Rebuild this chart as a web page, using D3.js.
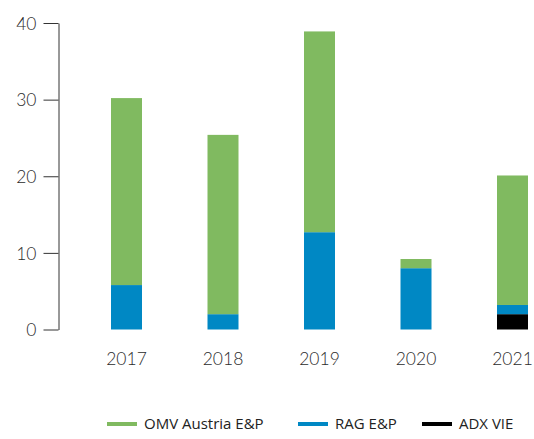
<!DOCTYPE html>
<html lang="en">
<head>
    <meta charset="UTF-8">
    <title>Stacked bars</title>
    <style>
        html, body {
            margin: 0;
            padding: 0;
            background-color: #fff;
        }
        .axis text, .year {
            font-family: 'Lato', sans-serif;
            font-weight: 300;
            font-size: 17.5px;
            fill: #2b2b2b;
        }
        .legend text {
            font-family: 'Open Sans', sans-serif;
            font-size: 15px;
            fill: #222;
        }
    </style>
</head>
<body>
    <div id="chart"></div>
    <script src="https://d3js.org/d3.v7.min.js"></script>
    <script>
        const width = 534, height = 439;

        const years = ["2017", "2018", "2019", "2020", "2021"];
        const adxVie = [0, 0, 0, 0, 2.0];
        const ragEP = [5.8, 2.0, 12.7, 8.0, 1.2];
        const omvAustria = [24.4, 23.4, 26.2, 1.2, 16.9];
        const seriesNames = ["ADX VIE", "RAG E&P", "OMV Austria E&P"];
        const colours = ["#000000", "#0088c4", "#80ba60"];
        const yTicks = [0, 10, 20, 30, 40];

        const rows = years.map((y, i) => ({
            year: y,
            "ADX VIE": adxVie[i],
            "RAG E&P": ragEP[i],
            "OMV Austria E&P": omvAustria[i]
        }));

        const stack = d3.stack().keys(seriesNames)(rows);

        const svg = d3.select("#chart")
            .append("svg")
            .attr("width", width)
            .attr("height", height);

        const x = d3.scalePoint()
            .domain(years)
            .range([126.5, 512.5]);
        const barW = 31;

        const y = d3.scaleLinear()
            .domain([0, 40])
            .range([329.5, 23]);

        const colour = d3.scaleOrdinal().domain(seriesNames).range(colours);

        // bars
        svg.append("g")
            .selectAll("g")
            .data(stack).enter()
            .append("g")
            .attr("fill", d => colour(d.key))
            .selectAll("rect")
            .data(d => d).enter()
            .append("rect")
            .attr("x", d => x(d.data.year) - barW / 2)
            .attr("y", d => y(d[1]))
            .attr("width", barW)
            .attr("height", d => y(d[0]) - y(d[1]));

        // y axis
        const yAxis = d3.axisLeft(y)
            .tickValues(yTicks)
            .tickSize(15)
            .tickSizeOuter(0)
            .tickPadding(7);

        const gy = svg.append("g")
            .attr("class", "axis")
            .attr("transform", "translate(58.5,0)")
            .call(yAxis);
        gy.selectAll("line").attr("stroke", "#333");
        gy.select(".domain").attr("stroke", "#333");
        gy.selectAll("text").attr("dy", "0.36em");

        // year labels
        svg.append("g")
            .selectAll("text")
            .data(years).enter()
            .append("text")
            .attr("class", "year")
            .attr("x", d => x(d))
            .attr("y", 365)
            .attr("text-anchor", "middle")
            .text(d => d);

        // legend
        const legendItems = [
            { name: "OMV Austria E&P", x: 107 },
            { name: "RAG E&P", x: 298 },
            { name: "ADX VIE", x: 422 }
        ];
        const legend = svg.append("g").attr("class", "legend");
        const li = legend.selectAll("g")
            .data(legendItems).enter()
            .append("g")
            .attr("transform", d => `translate(${d.x},424)`);
        li.append("rect")
            .attr("x", 0)
            .attr("y", -2)
            .attr("width", 30)
            .attr("height", 4)
            .attr("fill", d => colour(d.name));
        li.append("text")
            .attr("x", 37)
            .attr("y", 5)
            .text(d => d.name);
    </script>
</body>
</html>
